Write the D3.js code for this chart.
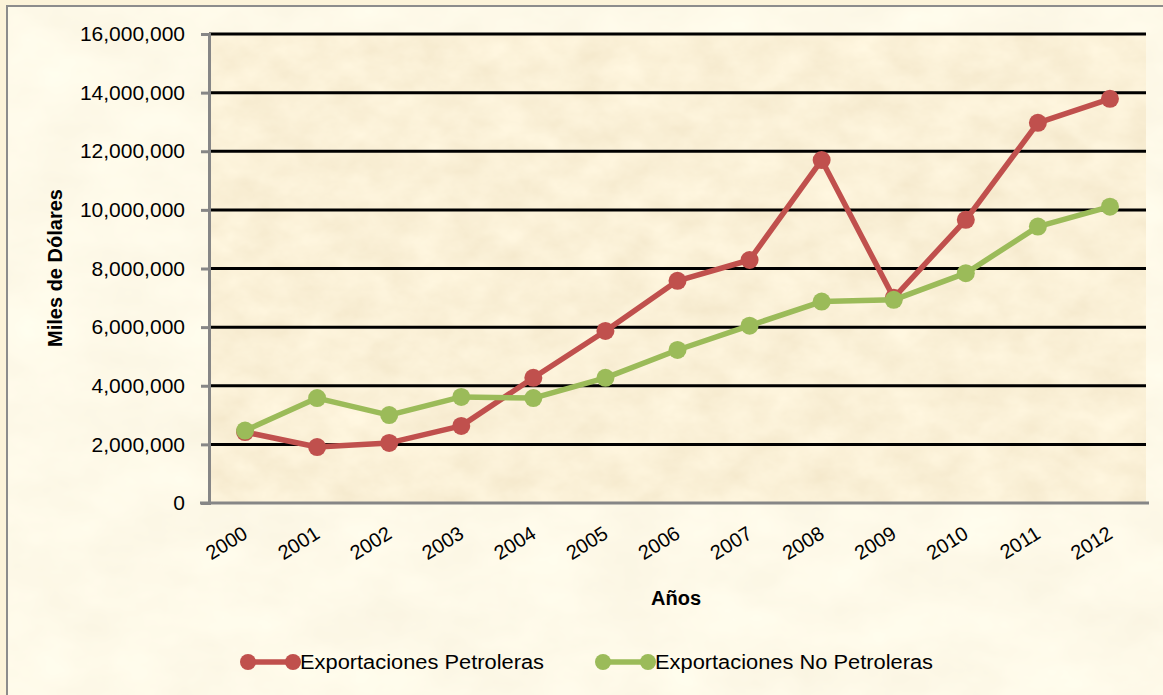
<!DOCTYPE html>
<html>
<head>
<meta charset="utf-8">
<script src="https://cdn.jsdelivr.net/npm/d3@7"></script>
<style>
  html, body { margin: 0; padding: 0; background: #fcf3d9; overflow: hidden; }
  svg { display: block; font-family: "Liberation Sans", "DejaVu Sans", sans-serif; }
</style>
</head>
<body>
<svg id="chart"></svg>
<script>
// data (miles de dólares)
const years = ['2000', '2001', '2002', '2003', '2004', '2005', '2006', '2007', '2008', '2009', '2010', '2011', '2012'];
const petroleras = [2420000, 1910000, 2050000, 2630000, 4270000, 5870000, 7580000, 8290000, 11700000, 7000000, 9660000, 12970000, 13790000];
const noPetroleras = [2470000, 3580000, 3000000, 3620000, 3580000, 4270000, 5220000, 6050000, 6870000, 6930000, 7840000, 9430000, 10110000];
const yTicks = [0, 2000000, 4000000, 6000000, 8000000, 10000000, 12000000, 14000000, 16000000];

const series = [
  { name: 'Exportaciones Petroleras', values: petroleras, color: '#c0504d' },
  { name: 'Exportaciones No Petroleras', values: noPetroleras, color: '#9bbb59' }
];

const width = 1163, height = 695;
const margin = { top: 34, right: 17, bottom: 192, left: 209 };
const innerWidth = width - margin.left - margin.right;
const innerHeight = height - margin.top - margin.bottom;

const svg = d3.select('#chart')
  .attr('width', width)
  .attr('height', height);

// parchment texture
const defs = svg.append('defs');
function parchment(id, seed, freq, matrix) {
  const f = defs.append('filter').attr('id', id)
    .attr('x', 0).attr('y', 0).attr('width', '100%').attr('height', '100%');
  f.append('feTurbulence')
    .attr('type', 'fractalNoise')
    .attr('baseFrequency', freq)
    .attr('numOctaves', 4)
    .attr('seed', seed)
    .attr('result', 'noise');
  f.append('feColorMatrix')
    .attr('in', 'noise')
    .attr('type', 'matrix')
    .attr('values', matrix);
}
parchment('paperOuter', 3, '0.012 0.02',
  '0.08 0 0 0 0.95  0.10 0 0 0 0.90  0.12 0 0 0 0.75  0 0 0 0 1');
parchment('paperInner', 7, '0.025 0.035',
  '0.12 0 0 0 0.90  0.15 0 0 0 0.80  0.18 0 0 0 0.59  0 0 0 0 1');

// chart background and frame
svg.append('rect')
  .attr('x', 7).attr('y', 6)
  .attr('width', width - 7).attr('height', height - 6)
  .attr('fill', '#fcf3d9')
  .attr('filter', 'url(#paperOuter)');
svg.append('path')
  .attr('d', `M7,${height}V6H${width}`)
  .attr('fill', 'none')
  .attr('stroke', '#8c8c8c')
  .attr('stroke-width', 2);

const g = svg.append('g')
  .attr('transform', `translate(${margin.left},${margin.top})`);

const x = d3.scaleBand()
  .domain(years)
  .range([0, innerWidth]);

const y = d3.scaleLinear()
  .domain([0, 16000000])
  .range([innerHeight, 0]);

// plot area
g.append('rect')
  .attr('width', innerWidth)
  .attr('height', innerHeight)
  .attr('fill', '#f2dcb0')
  .attr('filter', 'url(#paperInner)');

// gridlines
g.append('g')
  .selectAll('line')
  .data(yTicks.filter(d => d > 0))
  .enter()
  .append('line')
  .attr('x1', 0)
  .attr('x2', innerWidth)
  .attr('y1', d => y(d))
  .attr('y2', d => y(d))
  .attr('stroke', '#000')
  .attr('stroke-width', 3);

// y axis
const yAxis = g.append('g')
  .call(d3.axisLeft(y).tickValues(yTicks).tickSize(8).tickPadding(16).tickFormat(d3.format(',')));
yAxis.select('.domain').attr('stroke', '#868686').attr('stroke-width', 3);
yAxis.selectAll('.tick line').attr('stroke', '#868686').attr('stroke-width', 3);
yAxis.selectAll('.tick text')
  .attr('fill', '#000')
  .style('font-size', '21px')
  .style('font-family', '"Liberation Sans", sans-serif');

// x axis
const xAxis = g.append('g')
  .attr('transform', `translate(0,${innerHeight})`)
  .call(d3.axisBottom(x).tickSize(0).tickPadding(0));
xAxis.select('.domain').attr('stroke', '#868686').attr('stroke-width', 3).attr('d', `M-9,0H${innerWidth + 3}`);
xAxis.selectAll('.tick text')
  .attr('fill', '#000')
  .style('font-size', '20px')
  .style('font-family', '"Liberation Sans", sans-serif')
  .attr('text-anchor', 'end')
  .attr('dy', 0)
  .attr('transform', 'translate(4,34) rotate(-32)');

// axis titles
svg.append('text')
  .attr('transform', 'translate(62,268) rotate(-90)')
  .attr('text-anchor', 'middle')
  .style('font-size', '20px')
  .style('font-weight', 'bold')
  .text('Miles de Dólares');

svg.append('text')
  .attr('x', 676)
  .attr('y', 605)
  .attr('text-anchor', 'middle')
  .style('font-size', '20px')
  .style('font-weight', 'bold')
  .text('Años');

// lines and markers
const cx = d => x(d) + x.bandwidth() / 2;
const line = d3.line()
  .x((v, i) => cx(years[i]))
  .y(v => y(v));

series.forEach(s => {
  g.append('path')
    .datum(s.values)
    .attr('fill', 'none')
    .attr('stroke', s.color)
    .attr('stroke-width', 5.5)
    .attr('stroke-linejoin', 'round')
    .attr('d', line);

  g.append('g')
    .selectAll('circle')
    .data(s.values)
    .enter()
    .append('circle')
    .attr('cx', (v, i) => cx(years[i]))
    .attr('cy', v => y(v))
    .attr('r', 9)
    .attr('fill', s.color);
});

// legend
const legendItems = [
  { s: series[0], x: 248, len: 244 },
  { s: series[1], x: 603, len: 278 }
];
const legend = svg.append('g').attr('transform', 'translate(0,662)');
legendItems.forEach(item => {
  const lg = legend.append('g').attr('transform', `translate(${item.x},0)`);
  lg.append('line')
    .attr('x1', 0).attr('x2', 45)
    .attr('stroke', item.s.color)
    .attr('stroke-width', 5.5);
  lg.append('circle').attr('cx', 0).attr('r', 8).attr('fill', item.s.color);
  lg.append('circle').attr('cx', 45).attr('r', 8).attr('fill', item.s.color);
  lg.append('text')
    .attr('x', 52)
    .attr('dy', '0.36em')
    .style('font-size', '20px')
    .attr('textLength', item.len)
    .attr('lengthAdjust', 'spacingAndGlyphs')
    .text(item.s.name);
});
</script>
</body>
</html>
